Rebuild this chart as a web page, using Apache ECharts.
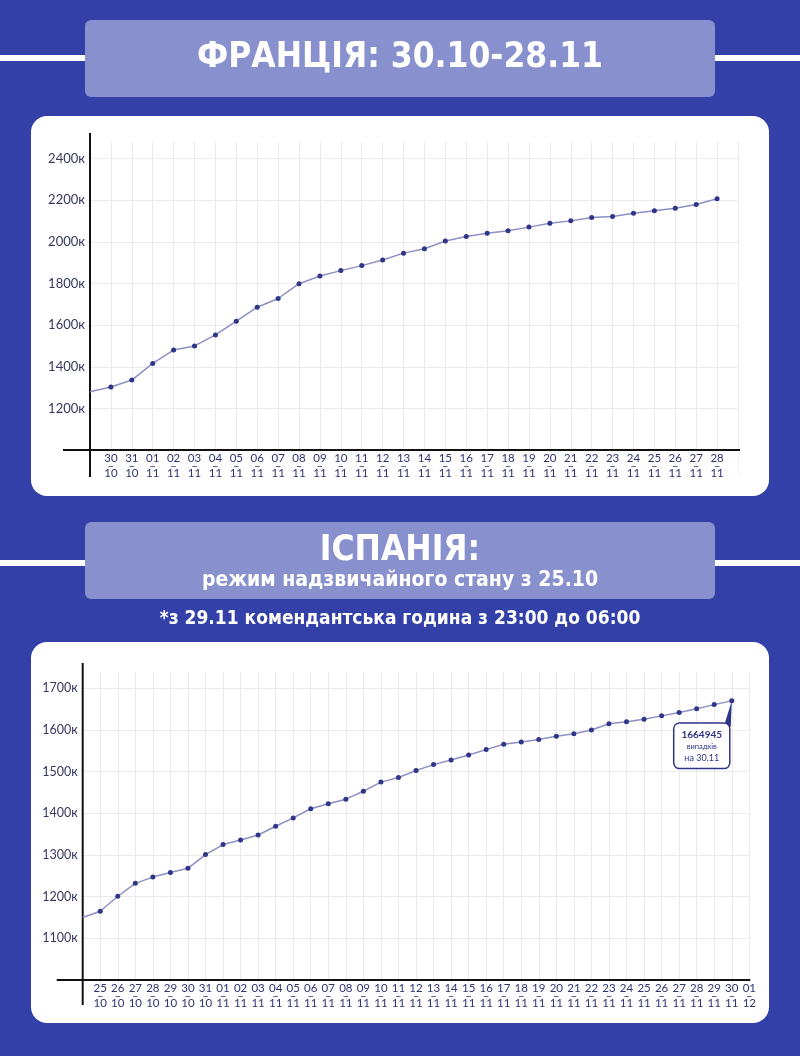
<!DOCTYPE html>
<html><head><meta charset="utf-8">
<script src="https://cdn.jsdelivr.net/npm/echarts@6/dist/echarts.min.js"></script>
<style>html,body{margin:0;padding:0;background:#3240a8}#c{width:800px;height:1056px}</style>
</head><body><div id="c"></div>
<script>
// ---------- DATA ----------
const franceTitle = 'ФРАНЦІЯ: 30.10-28.11';
const franceCategories = ['', '30/10','31/10','01/11','02/11','03/11','04/11','05/11','06/11','07/11','08/11','09/11','10/11','11/11','12/11','13/11','14/11','15/11','16/11','17/11','18/11','19/11','20/11','21/11','22/11','23/11','24/11','25/11','26/11','27/11','28/11',''];
// thousands of cases (к)
const franceValues = [1280, 1303,1336,1416,1480,1500,1553,1619,1686,1728,1799,1836,1862,1886,1913,1946,1967,2004,2026,2041,2054,2071,2090,2101,2117,2122,2138,2150,2162,2180,2207, null];

const spainTitle = 'ІСПАНІЯ:';
const spainSubtitle = 'режим надзвичайного стану з 25.10';
const spainNote = '*з 29.11 комендантська година з 23:00 до 06:00';
const spainCategories = ['', '25/10','26/10','27/10','28/10','29/10','30/10','31/10','01/11','02/11','03/11','04/11','05/11','06/11','07/11','08/11','09/11','10/11','11/11','12/11','13/11','14/11','15/11','16/11','17/11','18/11','19/11','20/11','21/11','22/11','23/11','24/11','25/11','26/11','27/11','28/11','29/11','30/11','01/12'];
const spainValues = [1150, 1165,1201,1232,1247,1258,1268,1301,1325,1336,1348,1369,1389,1411,1423,1434,1453,1475,1486,1503,1517,1528,1540,1553,1566,1571,1577,1585,1591,1600,1615,1620,1626,1634,1642,1651,1661,1670, null];
const spainCallout = ['1664945', 'випадків', 'на 30.11'];

// ---------- STYLE ----------
const BG = '#3240a8', BOX = '#8891cd', NAVY = '#2f3589', LINE = '#8c90c4', GRID = '#ebebee', LBL = '#2f3470';
const HFONT = '"DejaVu Sans Condensed", "DejaVu Sans", sans-serif';
const AFONT = 'Lato, "Noto Sans", sans-serif';
const G1 = {left: 90, top: 142, width: 648, height: 308};
const G2 = {left: 82.7, top: 671.7, width: 666.6, height: 308.3};

function xAxisFor(cats, gi) {
  return {
    type: 'category', gridIndex: gi, data: cats, boundaryGap: false,
    axisLine: {show: false}, axisTick: {show: true, length: 26, lineStyle: {color: '#f4f4f6'}},
    splitLine: {show: true, lineStyle: {color: GRID, width: 1}},
    axisLabel: {
      interval: 0, margin: 5, color: LBL, fontFamily: AFONT, fontSize: 11.5, lineHeight: 7.5,
      formatter: v => { if (!v) return ''; const p = v.split('/'); return p[0] + '\n–\n' + p[1]; }
    }
  };
}
function yAxisFor(gi, max, interval) {
  return {
    type: 'value', gridIndex: gi, min: 1000, max: max, interval: interval,
    axisLine: {show: false}, axisTick: {show: false},
    splitLine: {show: true, showMinLine: false, showMaxLine: false, lineStyle: {color: GRID}},
    axisLabel: {showMinLabel: false, showMaxLabel: false, margin: 5, color: '#34385f', fontFamily: AFONT,
      fontSize: gi === 0 ? 13 : 12.5, formatter: v => v + 'к'}
  };
}
function seriesData(vals) {
  return vals.map((v, i) => i === 0 ? {value: v, symbol: 'none'} : v);
}

const els = [
  // stripes
  {type: 'rect', shape: {x: 0, y: 55, width: 800, height: 6}, style: {fill: '#fff'}, z: -10},
  {type: 'rect', shape: {x: 0, y: 560, width: 800, height: 6}, style: {fill: '#fff'}, z: -10},
  // header boxes
  {type: 'rect', shape: {x: 85, y: 20, width: 630, height: 77, r: 6}, style: {fill: BOX}, z: -9},
  {type: 'rect', shape: {x: 85, y: 522, width: 630, height: 77, r: 6}, style: {fill: BOX}, z: -9},
  // cards
  {type: 'rect', shape: {x: 31, y: 116, width: 738, height: 380, r: 16}, style: {fill: '#fff'}, z: -9},
  {type: 'rect', shape: {x: 31, y: 642, width: 738, height: 381, r: 16}, style: {fill: '#fff'}, z: -9},
  // texts
  {type: 'text', x: 400, y: 58, style: {text: franceTitle, fill: '#fff', font: 'bold 35px ' + HFONT, align: 'center', verticalAlign: 'middle'}, z: 5},
  {type: 'text', x: 400, y: 551, style: {text: spainTitle, fill: '#fff', font: 'bold 35px ' + HFONT, align: 'center', verticalAlign: 'middle'}, z: 5},
  {type: 'text', x: 400, y: 581, style: {text: spainSubtitle, fill: '#fff', font: 'bold 21px ' + HFONT, align: 'center', verticalAlign: 'middle'}, z: 5},
  {type: 'text', x: 400, y: 619, style: {text: spainNote, fill: '#fff', font: 'bold 19px ' + HFONT, align: 'center', verticalAlign: 'middle'}, z: 5},
  // axis lines (extend beyond plot area like the reference)
  {type: 'line', shape: {x1: 63, y1: G1.top + G1.height, x2: G1.left + G1.width + 2, y2: G1.top + G1.height}, style: {stroke: '#111', lineWidth: 2}, z: 3},
  {type: 'line', shape: {x1: G1.left, y1: 133, x2: G1.left, y2: 477}, style: {stroke: '#111', lineWidth: 2}, z: 3},
  {type: 'line', shape: {x1: 56.7, y1: G2.top + G2.height, x2: G2.left + G2.width + 1, y2: G2.top + G2.height}, style: {stroke: '#111', lineWidth: 2}, z: 3},
  {type: 'line', shape: {x1: G2.left, y1: 663, x2: G2.left, y2: 1005}, style: {stroke: '#111', lineWidth: 2}, z: 3}
].map((e, i) => Object.assign({id: 'g' + i}, e));

const chart = echarts.init(document.getElementById('c'), null, {renderer: 'canvas'});
const lastIdx = spainValues.length - 2;
const spData = seriesData(spainValues);
spData[lastIdx] = {
  value: spainValues[lastIdx],
  label: {
    show: true, position: 'inside', offset: [-30, 45],
    formatter: '{a|' + spainCallout[0] + '}\n{b|' + spainCallout[1] + '}\n{c|' + spainCallout[2] + '}',
    backgroundColor: '#fff', borderColor: NAVY, borderWidth: 1.5, borderRadius: 5,
    padding: [5, 7, 4, 7], align: 'center', verticalAlign: 'middle',
    rich: {
      a: {fontFamily: AFONT, fontWeight: 'bold', fontSize: 10, color: NAVY, lineHeight: 12, align: 'center'},
      b: {fontFamily: AFONT, fontSize: 7.5, color: NAVY, lineHeight: 11, align: 'center'},
      c: {fontFamily: AFONT, fontSize: 9, color: NAVY, lineHeight: 12, align: 'center'}
    }
  }
};

chart.setOption({
  backgroundColor: BG,
  animation: false,
  grid: [Object.assign({outerBoundsMode: 'none', containLabel: false}, G1), Object.assign({outerBoundsMode: 'none', containLabel: false}, G2)],
  xAxis: [xAxisFor(franceCategories, 0), xAxisFor(spainCategories, 1)],
  yAxis: [yAxisFor(0, 2480, 200), yAxisFor(1, 1740, 100)],
  graphic: {elements: els},
  series: [
    {type: 'line', xAxisIndex: 0, yAxisIndex: 0, data: seriesData(franceValues), symbol: 'circle', symbolSize: 5,
      lineStyle: {color: LINE, width: 1.5}, itemStyle: {color: NAVY}, z: 4},
    {type: 'line', xAxisIndex: 1, yAxisIndex: 1, data: spData, symbol: 'circle', symbolSize: 5,
      lineStyle: {color: LINE, width: 1.5}, itemStyle: {color: NAVY}, z: 4}
  ]
});

// callout pointer wedge, positioned from the library's own scale
const pt = chart.convertToPixel({gridIndex: 1}, [lastIdx, spainValues[lastIdx]]);
chart.setOption({graphic: {elements: [{
  id: 'wedge', type: 'polygon', z: 3,
  shape: {points: [[pt[0] - 8, pt[1] + 26], [pt[0] - 1, pt[1] + 26], pt]},
  style: {fill: NAVY}
}]}});
</script></body></html>
